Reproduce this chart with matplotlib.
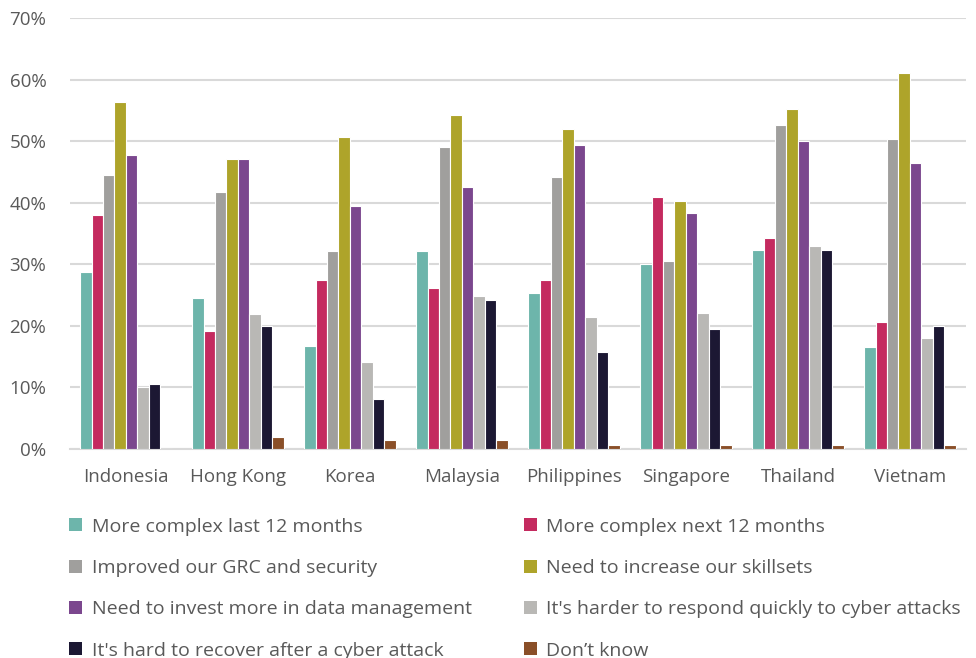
import numpy as np
import matplotlib.pyplot as plt
from matplotlib.patches import Patch

plt.rcParams['font.family'] = ['Open Sans', 'DejaVu Sans']

countries = ["Indonesia", "Hong Kong", "Korea", "Malaysia",
             "Philippines", "Singapore", "Thailand", "Vietnam"]

series_names = [
    "More complex last 12 months",
    "More complex next 12 months",
    "Improved our GRC and security",
    "Need to increase our skillsets",
    "Need to invest more in data management",
    "It's harder to respond quickly to cyber attacks",
    "It's hard to recover after a cyber attack",
    "Don\u2019t know",
]

colors = ["#6db5ab", "#c42a5f", "#a09f9d", "#aea42a",
          "#7b478e", "#b9b8b5", "#1c1833", "#8a4f28"]

# percentages per country, one list per series
complex_last = [28.7, 24.5, 16.8, 32.1, 25.4, 30.0, 32.3, 16.6]
complex_next = [38.0, 19.2, 27.4, 26.2, 27.4, 41.0, 34.3, 20.6]
improved_grc = [44.5, 41.8, 32.1, 49.0, 44.2, 30.6, 52.7, 50.4]
skillsets = [56.3, 47.1, 50.7, 54.3, 52.0, 40.3, 55.3, 61.0]
data_mgmt = [47.8, 47.1, 39.4, 42.6, 49.4, 38.4, 50.1, 46.4]
harder_respond = [10.0, 22.0, 14.1, 24.9, 21.5, 22.1, 32.9, 18.0]
hard_recover = [10.5, 20.0, 8.1, 24.2, 15.7, 19.5, 32.3, 20.0]
dont_know = [0.0, 2.0, 1.4, 1.4, 0.6, 0.6, 0.6, 0.6]

series = [complex_last, complex_next, improved_grc, skillsets,
          data_mgmt, harder_respond, hard_recover, dont_know]

fig = plt.figure(figsize=(9.76, 6.58), dpi=100)
ax = fig.add_axes([0.0717, 0.3176, 0.918, 0.655])

x = np.arange(len(countries))
group_w = 0.82
bar_w = group_w / len(series)

for i, vals in enumerate(series):
    offs = -group_w / 2 + bar_w * (i + 0.5)
    ax.bar(x + offs, vals, width=bar_w, color=colors[i],
           edgecolor="white", linewidth=0.8, zorder=3)

ax.set_xlim(-0.5, len(countries) - 0.5)
ax.set_ylim(0, 70)
ax.set_yticks(np.arange(0, 71, 10))
ax.set_yticklabels([f"{v}%" for v in range(0, 71, 10)])
ax.set_xticks(x)
ax.set_xticklabels(countries)

ax.grid(axis="y", color="#d9d9d9", linewidth=1.5, zorder=0)
for s in ("top", "right", "left"):
    ax.spines[s].set_visible(False)
ax.spines["bottom"].set_color("#d9d9d9")
ax.spines["bottom"].set_linewidth(1.5)

ax.tick_params(axis="y", length=0, pad=17, labelsize=13.5, labelcolor="#595959")
ax.tick_params(axis="x", length=0, pad=14, labelsize=13.5, labelcolor="#595959")

# legend laid out row by row in two columns
handles = [Patch(facecolor=c) for c in colors]
order = [0, 2, 4, 6, 1, 3, 5, 7]
fig.legend([handles[i] for i in order], [series_names[i] for i in order],
           ncol=2, loc="upper left", bbox_to_anchor=(0.053, 0.24),
           frameon=False, fontsize=14, labelcolor="#595959",
           handlelength=0.65, handleheight=0.65, handletextpad=0.5,
           columnspacing=2.7, labelspacing=1.2)

fig.savefig("out.png", dpi=100)
